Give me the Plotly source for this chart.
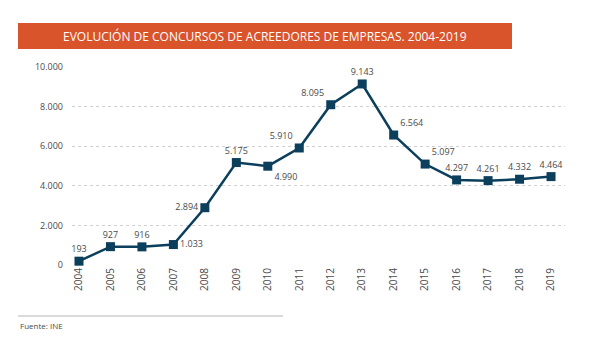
import plotly.graph_objects as go

years = [str(y) for y in range(2004, 2020)]
values = [193, 927, 916, 1033, 2894, 5175, 4990, 5910, 8095, 9143, 6564, 5097, 4297, 4261, 4332, 4464]
labels = ["193", "927", "916", "1.033", "2.894", "5.175", "4.990", "5.910", "8.095", "9.143",
          "6.564", "5.097", "4.297", "4.261", "4.332", "4.464"]
positions = ["top center", "top center", "top center", "middle right", "middle left", "top center",
             "bottom right", "top left", "top left", "top center", "top right", "top right",
             "top center", "top center", "top center", "top center"]
yticks = [0, 2000, 4000, 6000, 8000, 10000]
yticklabels = ["0", "2.000", "4.000", "6.000", "8.000", "10.000"]

x = list(range(len(years)))
L, R, T, B = 72, 35, 67, 73
W, H = 600, 338
pw, ph = W - L - R, H - T - B

def px(xp):
    return (xp - L) / pw

def py(yp):
    return (H - B - yp) / ph

fig = go.Figure()
fig.add_trace(go.Scatter(
    x=x, y=values, mode="lines+markers+text",
    line=dict(color="#0b3f5c", width=2.5),
    marker=dict(symbol="square", size=9, color="#0b3f5c"),
    text=labels, textposition=positions,
    textfont=dict(family="Open Sans", size=9, color="#4a4a4a"),
    cliponaxis=False, hoverinfo="skip",
))

fig.update_layout(
    width=W, height=H, margin=dict(l=L, r=R, t=T, b=B),
    paper_bgcolor="white", plot_bgcolor="white", showlegend=False,
    font=dict(family="Open Sans", color="#4a4a4a"),
    xaxis=dict(range=[-0.222, 15.444], tickvals=x, ticktext=years, tickangle=-90,
               showgrid=False, zeroline=False, showline=False, ticks="",
               tickfont=dict(size=10, color="#4a4a4a")),
    yaxis=dict(range=[0, 10000], tickvals=yticks, ticktext=yticklabels,
               showgrid=True, gridcolor="#d0d0d0", griddash="dot", gridwidth=1,
               zeroline=False, showline=False, ticks="", ticklabelstandoff=8,
               tickfont=dict(size=9, color="#4a4a4a")),
    shapes=[
        dict(type="rect", xref="paper", yref="paper", x0=px(18), x1=px(512), y0=py(49), y1=py(23),
             fillcolor="#d9532b", line=dict(width=0), layer="below"),
        dict(type="line", xref="paper", yref="paper", x0=px(18), x1=px(283), y0=py(316), y1=py(316),
             line=dict(color="#cfcfcf", width=1.5)),
    ],
    annotations=[
        dict(text="EVOLUCIÓN DE CONCURSOS DE ACREEDORES DE EMPRESAS. 2004-2019",
             xref="paper", yref="paper", x=px(265), y=py(36), showarrow=False,
             xanchor="center", yanchor="middle",
             font=dict(family="Open Sans", size=12, color="white")),
        dict(text="Fuente: INE", xref="paper", yref="paper", x=px(18), y=py(325), showarrow=False,
             xanchor="left", yanchor="middle", font=dict(family="Open Sans", size=8, color="#4a4a4a")),
    ],
)

fig.write_html("out.html")
